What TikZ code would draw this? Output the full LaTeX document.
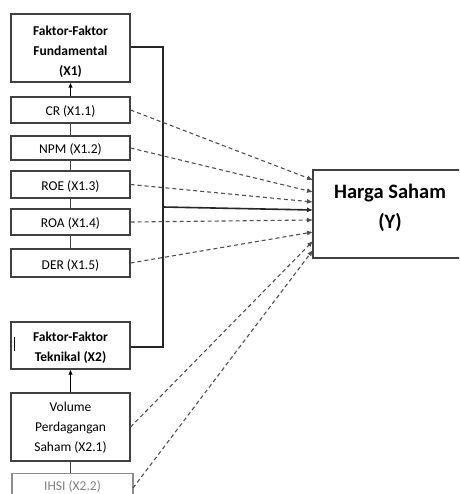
\documentclass[tikz,border=0pt]{standalone}
\usepackage{fontspec}
\setmainfont{Carlito}
\usetikzlibrary{arrows.meta}
\definecolor{bordc}{HTML}{404040}
\definecolor{dashc}{HTML}{505050}
\tikzset{
  box/.style={draw=bordc, line width=1.1pt, minimum width=119pt, inner sep=0pt},
  txt/.style={inner sep=0pt, align=center, font=\fontsize{13.5}{20}\selectfont, text=black},
  btxt/.style={txt, font=\fontsize{13.5}{20}\selectfont\bfseries},
  link/.style={draw=bordc, line width=1.1pt},
  thick link/.style={draw=black!85, line width=2pt},
  dlink/.style={draw=dashc, line width=1.1pt, dash pattern=on 4pt off 3pt, -{Latex[length=6pt,width=5pt]}},
  up/.style={draw=black, line width=1.1pt, -{Latex[length=5pt,width=4.5pt]}}
}
\begin{document}
\begin{tikzpicture}[x=1pt,y=-1pt]
\useasboundingbox (0,0) rectangle (459,494);
\clip (0,0) rectangle (459,494);
% left column boxes
\node[box, minimum height=68pt] (fund) at (70.5,48) {};
\node[box, minimum height=26pt] (cr) at (70.5,110) {};
\node[box, minimum height=24pt] (npm) at (70.5,148) {};
\node[box, minimum height=27pt] (roe) at (70.5,184.5) {};
\node[box, minimum height=26pt] (roa) at (70.5,222) {};
\node[box, minimum height=28pt] (der) at (70.5,263) {};
\node[box, minimum height=47pt] (tech) at (70.5,345.5) {};
\node[box, minimum height=68pt] (vol) at (70.5,427) {};
\node[box, draw=black!45, minimum width=121pt, minimum height=30pt, anchor=north] (ihsi) at (72.5,473) {};
% texts
\node[btxt] (fundt) at ([yshift=-4pt]fund.center) {Faktor-Faktor\\Fundamental\\(X1)};
\node[txt] (crt) at ([yshift=-2pt]cr.center) {CR (X1.1)};
\node[txt] (npmt) at ([yshift=-1pt]npm.center) {NPM (X1.2)};
\node[txt] (roet) at ([yshift=-2pt]roe.center) {ROE (X1.3)};
\node[txt] (roat) at ([yshift=-1pt]roa.center) {ROA (X1.4)};
\node[txt] (dert) at ([yshift=-2pt]der.center) {DER (X1.5)};
\node[btxt] (techt) at ([yshift=-2.5pt]tech.center) {Faktor-Faktor\\Teknikal (X2)};
\node[txt] (volt) at ([yshift=-1pt]vol.center) {Volume\\Perdagangan\\Saham (X2.1)};
\node[txt, text=black!50] (ihsit) at (72.5,486) {IHSI (X2.2)};
% right box
\node[draw=bordc, line width=1.1pt, minimum width=154pt, minimum height=88pt, inner sep=0pt] (y) at (390,214) {};
\node[txt, font=\fontsize{20.5}{30}\selectfont\bfseries] (yt) at ([yshift=6pt]y.center) {Harga Saham\\(Y)};
% small cursor mark
\draw[black, line width=1pt] (14,337) -- (14,351);
% vertical links
\draw[up] (cr.north) -- (fund.south);
\draw[link] (cr.south) -- (npm.north);
\draw[link] (npm.south) -- (roe.north);
\draw[link] (roe.south) -- (roa.north);
\draw[link] (roa.south) -- (der.north);
\draw[up] (vol.north) -- (tech.south);
\draw[link] (vol.south) -- (vol.south |- ihsi.north);
% bracket
\coordinate (b1) at (163,47);
\coordinate (b2) at (163,347);
\coordinate (bm) at (163,207);
\draw[thick link] (fund.east |- b1) -- (b1) -- (b2) -- (tech.east |- b2);
% targets
\coordinate (t1) at (313,180);
\coordinate (t2) at (313,192);
\coordinate (t3) at (313,202);
\coordinate (t4) at (313,210);
\coordinate (t5) at (313,220);
\coordinate (t6) at (313,232);
\coordinate (t7) at (313,241);
\coordinate (t8) at (313,250);
\draw[thick link, line width=1.6pt, -{Latex[length=6pt,width=5pt]}] (bm) -- (t4);
\draw[dlink] (cr.east) -- (t1);
\draw[dlink] (npm.east) -- (t2);
\draw[dlink] (roe.east) -- (t3);
\draw[dlink] (roa.east) -- (t5);
\draw[dlink] (der.east) -- (t6);
\draw[dlink] (vol.east) -- (t7);
\coordinate (ie) at (133,488);
\draw[dlink] (ie) -- (t8);
\end{tikzpicture}
\end{document}
